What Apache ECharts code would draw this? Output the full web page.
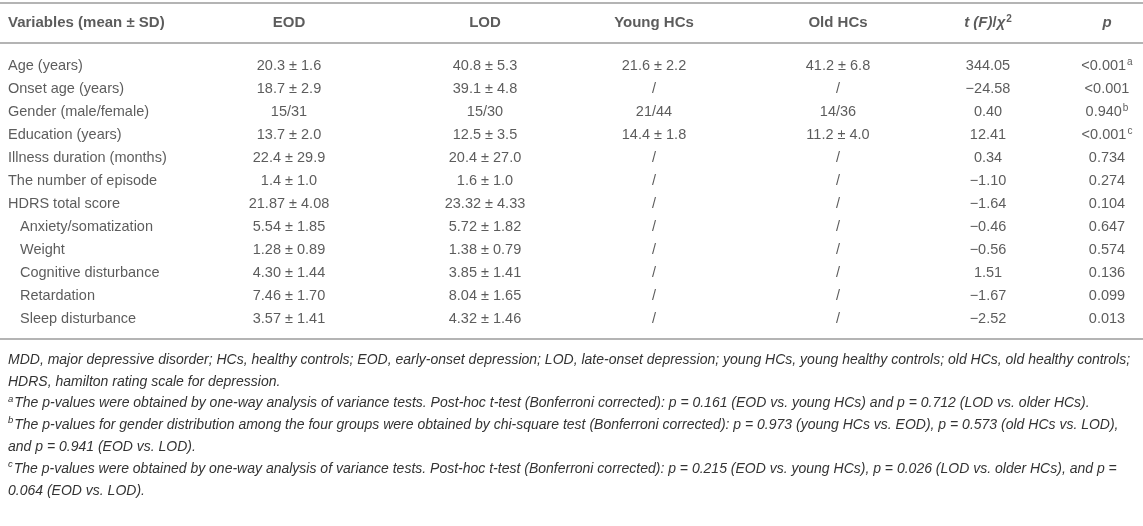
<!DOCTYPE html>
<html>
<head>
<meta charset="utf-8">
<script src="https://cdn.jsdelivr.net/npm/echarts@6/dist/echarts.min.js"></script>
<style>
html,body{margin:0;padding:0;background:#fff;}
#chart{width:1143px;height:526px;}
</style>
</head>
<body>
<div id="chart"></div>
<script>
// ---- data ----
const headers = ['Variables (mean \u00b1 SD)', 'EOD', 'LOD', 'Young HCs', 'Old HCs', 'tF', 'p'];
const variables = ['Age (years)', 'Onset age (years)', 'Gender (male/female)', 'Education (years)',
  'Illness duration (months)', 'The number of episode', 'HDRS total score', 'Anxiety/somatization',
  'Weight', 'Cognitive disturbance', 'Retardation', 'Sleep disturbance'];
const variableLevel = [0, 0, 0, 0, 0, 0, 0, 1, 1, 1, 1, 1];
const eod = ['20.3 \u00b1 1.6', '18.7 \u00b1 2.9', '15/31', '13.7 \u00b1 2.0', '22.4 \u00b1 29.9', '1.4 \u00b1 1.0',
  '21.87 \u00b1 4.08', '5.54 \u00b1 1.85', '1.28 \u00b1 0.89', '4.30 \u00b1 1.44', '7.46 \u00b1 1.70', '3.57 \u00b1 1.41'];
const lod = ['40.8 \u00b1 5.3', '39.1 \u00b1 4.8', '15/30', '12.5 \u00b1 3.5', '20.4 \u00b1 27.0', '1.6 \u00b1 1.0',
  '23.32 \u00b1 4.33', '5.72 \u00b1 1.82', '1.38 \u00b1 0.79', '3.85 \u00b1 1.41', '8.04 \u00b1 1.65', '4.32 \u00b1 1.46'];
const youngHCs = ['21.6 \u00b1 2.2', '/', '21/44', '14.4 \u00b1 1.8', '/', '/', '/', '/', '/', '/', '/', '/'];
const oldHCs = ['41.2 \u00b1 6.8', '/', '14/36', '11.2 \u00b1 4.0', '/', '/', '/', '/', '/', '/', '/', '/'];
const tStat = ['344.05', '\u221224.58', '0.40', '12.41', '0.34', '\u22121.10', '\u22121.64', '\u22120.46',
  '\u22120.56', '1.51', '\u22121.67', '\u22122.52'];
const pValue = ['<0.001', '<0.001', '0.940', '<0.001', '0.734', '0.274', '0.104', '0.647', '0.574', '0.136', '0.099', '0.013'];
const pNotes = ['a', '', 'b', 'c', '', '', '', '', '', '', '', ''];
const footnotes = [
  '{i|MDD, major depressive disorder; HCs, healthy controls; EOD, early-onset depression; LOD, late-onset depression; young HCs, young healthy controls; old HCs, old healthy controls;}',
  '{i|HDRS, hamilton rating scale for depression.}',
  '{s|a}{i|The p-values were obtained by one-way analysis of variance tests. Post-hoc t-test (Bonferroni corrected): p = 0.161 (EOD vs. young HCs) and p = 0.712 (LOD vs. older HCs).}',
  '{s|b}{i|The p-values for gender distribution among the four groups were obtained by chi-square test (Bonferroni corrected): p = 0.973 (young HCs vs. EOD), p = 0.573 (old HCs vs. LOD),}',
  '{i|and p = 0.941 (EOD vs. LOD).}',
  '{s|c}{i|The p-values were obtained by one-way analysis of variance tests. Post-hoc t-test (Bonferroni corrected): p = 0.215 (EOD vs. young HCs), p = 0.026 (LOD vs. older HCs), and p =}',
  '{i|0.064 (EOD vs. LOD).}'
];

// ---- layout ----
const colX = [8, 289, 485, 654, 838, 988, 1107];
const textColor = '#333';
const ruleColor = '#b4b4b4';
const font = 'Liberation Sans, Arial, Helvetica, sans-serif';
const bodySize = 14.5;
const headSize = 15;

const chart = echarts.init(document.getElementById('chart'), null, {renderer: 'canvas'});

const columns = [variables, eod, lod, youngHCs, oldHCs, tStat, pValue];
const richBase = {
  n: {fontSize: bodySize, color: textColor, fontFamily: font, lineHeight: 18},
  s: {fontSize: 10, color: textColor, fontFamily: font, lineHeight: 18, verticalAlign: 'top', padding: [0, 0, 6, 1]},
  b: {fontSize: headSize, color: textColor, fontFamily: font, fontWeight: 'bold', lineHeight: 18},
  bi: {fontSize: headSize, color: textColor, fontFamily: font, fontWeight: 'bold', fontStyle: 'italic', lineHeight: 18},
  bs: {fontSize: 10, color: textColor, fontFamily: font, fontWeight: 'bold', lineHeight: 18, verticalAlign: 'top', padding: [0, 0, 6, 1]}
};

function headerText(i) {
  if (headers[i] === 'tF') return '{bi|t (F)}{b|/}{bi|\u03c7}{bs|2}';
  if (headers[i] === 'p') return '{bi|p}';
  return '{b|' + headers[i] + '}';
}

const series = [];
series.push({
  type: 'scatter', xAxisIndex: 0, yAxisIndex: 0, symbolSize: 0, silent: true,
  data: headers.map((h, i) => ({value: [colX[i], 0], label: {align: i === 0 ? 'left' : 'center'}})),
  label: {
    show: true, position: 'inside',
    formatter: p => headerText(p.dataIndex),
    rich: richBase
  }
});

columns.forEach((col, c) => {
  series.push({
    type: 'scatter', xAxisIndex: 1, yAxisIndex: 1, symbolSize: 0, silent: true,
    data: col.map((v, r) => ({
      value: [colX[c], r],
      label: c === 0 ? {align: 'left', padding: [0, 0, 0, variableLevel[r] ? 12 : 0]} : {align: 'center'}
    })),
    label: {
      show: true, position: 'inside',
      formatter: p => {
        const r = p.dataIndex;
        let txt = '{n|' + col[r] + '}';
        if (c === 6 && pNotes[r]) txt += '{s|' + pNotes[r] + '}';
        return txt;
      },
      rich: richBase
    }
  });
});

const option = {
  backgroundColor: '#fff',
  animation: false,
  grid: [
    {left: 0, right: 0, top: 3, height: 40},
    {left: 0, right: 0, top: 54.5, height: 276}
  ],
  xAxis: [
    {type: 'value', gridIndex: 0, min: 0, max: 1143, show: false},
    {type: 'value', gridIndex: 1, min: 0, max: 1143, show: false}
  ],
  yAxis: [
    {type: 'category', gridIndex: 0, data: ['header'], show: false},
    {type: 'category', gridIndex: 1, data: variables, inverse: true, show: false}
  ],
  title: {
    left: 8, top: 349, padding: 0,
    text: footnotes.join('\n'),
    textStyle: {
      fontWeight: 'normal',
      rich: {
        i: {fontSize: 14, fontStyle: 'italic', fontWeight: 'normal', color: textColor, fontFamily: font, lineHeight: 21.8},
        s: {fontSize: 9.5, fontStyle: 'italic', fontWeight: 'normal', color: textColor, fontFamily: font, lineHeight: 21.8, verticalAlign: 'middle', padding: [0, 1, 9, 0]}
      }
    }
  },
  graphic: [
    {type: 'rect', shape: {x: 0, y: 2, width: 1143, height: 2}, style: {fill: ruleColor}, silent: true},
    {type: 'rect', shape: {x: 0, y: 42, width: 1143, height: 2}, style: {fill: ruleColor}, silent: true},
    {type: 'rect', shape: {x: 0, y: 338, width: 1143, height: 2}, style: {fill: ruleColor}, silent: true}
  ],
  series: series
};
chart.setOption(option);
</script>
</body>
</html>
